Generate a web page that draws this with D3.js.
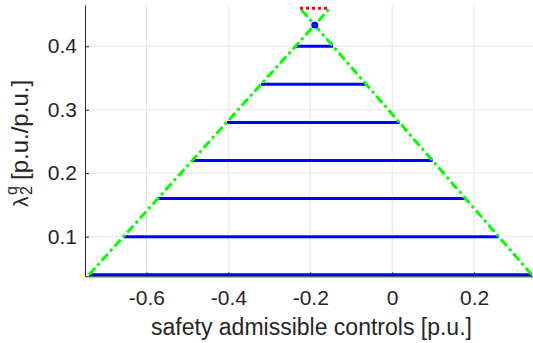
<!DOCTYPE html>
<html>
<head>
<meta charset="utf-8">
<script src="https://cdn.jsdelivr.net/npm/d3@7"></script>
<style>
  html, body { margin: 0; padding: 0; background: #fff; }
  svg { display: block; font-family: "Liberation Sans", Arial, Helvetica, sans-serif; }
</style>
</head>
<body>
<svg id="chart" width="533" height="343"></svg>
<script>
// ---- data ----
const levelY = [0.04, 0.10, 0.16, 0.22, 0.28, 0.34, 0.40];
const levelXLeft = [-0.740, -0.656, -0.572, -0.488, -0.404, -0.320, -0.236];
const levelXRight = [0.341, 0.260, 0.179, 0.099, 0.018, -0.063, -0.144];
const boundLeftX = [-0.740, -0.152];
const boundLeftY = [0.04, 0.46];
const boundRightX = [0.341, -0.225];
const boundRightY = [0.04, 0.46];
const topX = [-0.225, -0.152];
const topY = [0.46, 0.46];
const apexX = [-0.189];
const apexY = [0.4335];
const xTicks = [-0.6, -0.4, -0.2, 0, 0.2];
const yTicks = [0.1, 0.2, 0.3, 0.4];
const xTickLabels = ["-0.6", "-0.4", "-0.2", "0", "0.2"];
const yTickLabels = ["0.1", "0.2", "0.3", "0.4"];

const svg = d3.select("#chart");
const pLeft = 85, pTop = 5, pBottom = 276.3;
const x = d3.scaleLinear().domain([-0.75, 0.35]).range([pLeft, 535.5]);
const y = d3.scaleLinear().domain([0.0375, 0.465]).range([pBottom, pTop]);

svg.append("defs").append("clipPath").attr("id", "clip")
  .append("rect").attr("x", pLeft).attr("y", pTop).attr("width", 533 - pLeft).attr("height", pBottom - pTop);

// grid
const grid = svg.append("g");
grid.selectAll("line.gx").data(xTicks).join("line")
  .attr("class", "gx")
  .attr("x1", d => x(d)).attr("x2", d => x(d)).attr("y1", pTop).attr("y2", pBottom)
  .attr("stroke", "#e6e6e6").attr("stroke-width", 1);
grid.selectAll("line.gy").data(yTicks).join("line")
  .attr("class", "gy")
  .attr("y1", d => y(d)).attr("y2", d => y(d)).attr("x1", pLeft).attr("x2", 533)
  .attr("stroke", "#e6e6e6").attr("stroke-width", 1);

// axes
const xAxis = d3.axisBottom(x).tickValues(xTicks).tickFormat((d, i) => xTickLabels[i]).tickSizeInner(-4).tickSizeOuter(0).tickPadding(14);
const yAxis = d3.axisLeft(y).tickValues(yTicks).tickFormat((d, i) => yTickLabels[i]).tickSizeInner(-4).tickSizeOuter(0).tickPadding(8);
const gx = svg.append("g").attr("transform", `translate(0,${pBottom})`).call(xAxis);
const gy = svg.append("g").attr("transform", `translate(${pLeft},0)`).call(yAxis);
[gx, gy].forEach(g => {
  g.select(".domain").attr("stroke", "#262626").attr("stroke-width", 1);
  g.selectAll(".tick line").attr("stroke", "#262626");
  g.selectAll(".tick text").attr("fill", "#262626").attr("font-size", 21)
    .attr("font-family", "Liberation Sans, Arial, sans-serif");
});

const plot = svg.append("g").attr("clip-path", "url(#clip)");

// blue levels
plot.selectAll("line.lvl").data(levelY).join("line")
  .attr("class", "lvl")
  .attr("x1", (d, i) => x(levelXLeft[i])).attr("x2", (d, i) => x(levelXRight[i]))
  .attr("y1", d => y(d)).attr("y2", d => y(d))
  .attr("stroke", "#0000ff").attr("stroke-width", 3);

// green bounds
const line = d3.line().x(d => x(d[0])).y(d => y(d[1]));
[[boundLeftX, boundLeftY], [boundRightX, boundRightY]].forEach(([xs, ys]) => {
  plot.append("path").datum(xs.map((v, i) => [v, ys[i]]))
    .attr("d", line).attr("fill", "none")
    .attr("stroke", "#00ff00").attr("stroke-width", 3)
    .attr("stroke-dasharray", "9,3.5,3,3.5");
});

// red dotted top
plot.append("path").datum(topX.map((v, i) => [v, topY[i]]))
  .attr("d", line).attr("fill", "none")
  .attr("stroke", "#ff0000").attr("stroke-width", 3)
  .attr("stroke-dasharray", "3,3");

// apex dot
plot.selectAll("circle").data(apexX).join("circle")
  .attr("cx", d => x(d)).attr("cy", (d, i) => y(apexY[i])).attr("r", 3.5)
  .attr("fill", "#0000ff");

// x label
svg.append("text").attr("x", 311.5).attr("y", 335)
  .attr("text-anchor", "middle").attr("font-size", 23).attr("fill", "#262626")
  .text("safety admissible controls [p.u.]");

// y label
const yl = svg.append("g").attr("transform", "translate(28,207) rotate(-90)");
yl.append("text").attr("x", 0).attr("y", 0).attr("font-size", 21).attr("fill", "#262626").text("λ");
yl.append("text").attr("x", 12).attr("y", -11).attr("font-size", 16).attr("fill", "#262626").text("q");
yl.append("text").attr("x", 12).attr("y", 4).attr("font-size", 16).attr("fill", "#262626").text("2");
yl.append("text").attr("x", 27).attr("y", 0).attr("font-size", 24).attr("fill", "#262626").text("[p.u./p.u.]");
</script>
</body>
</html>
